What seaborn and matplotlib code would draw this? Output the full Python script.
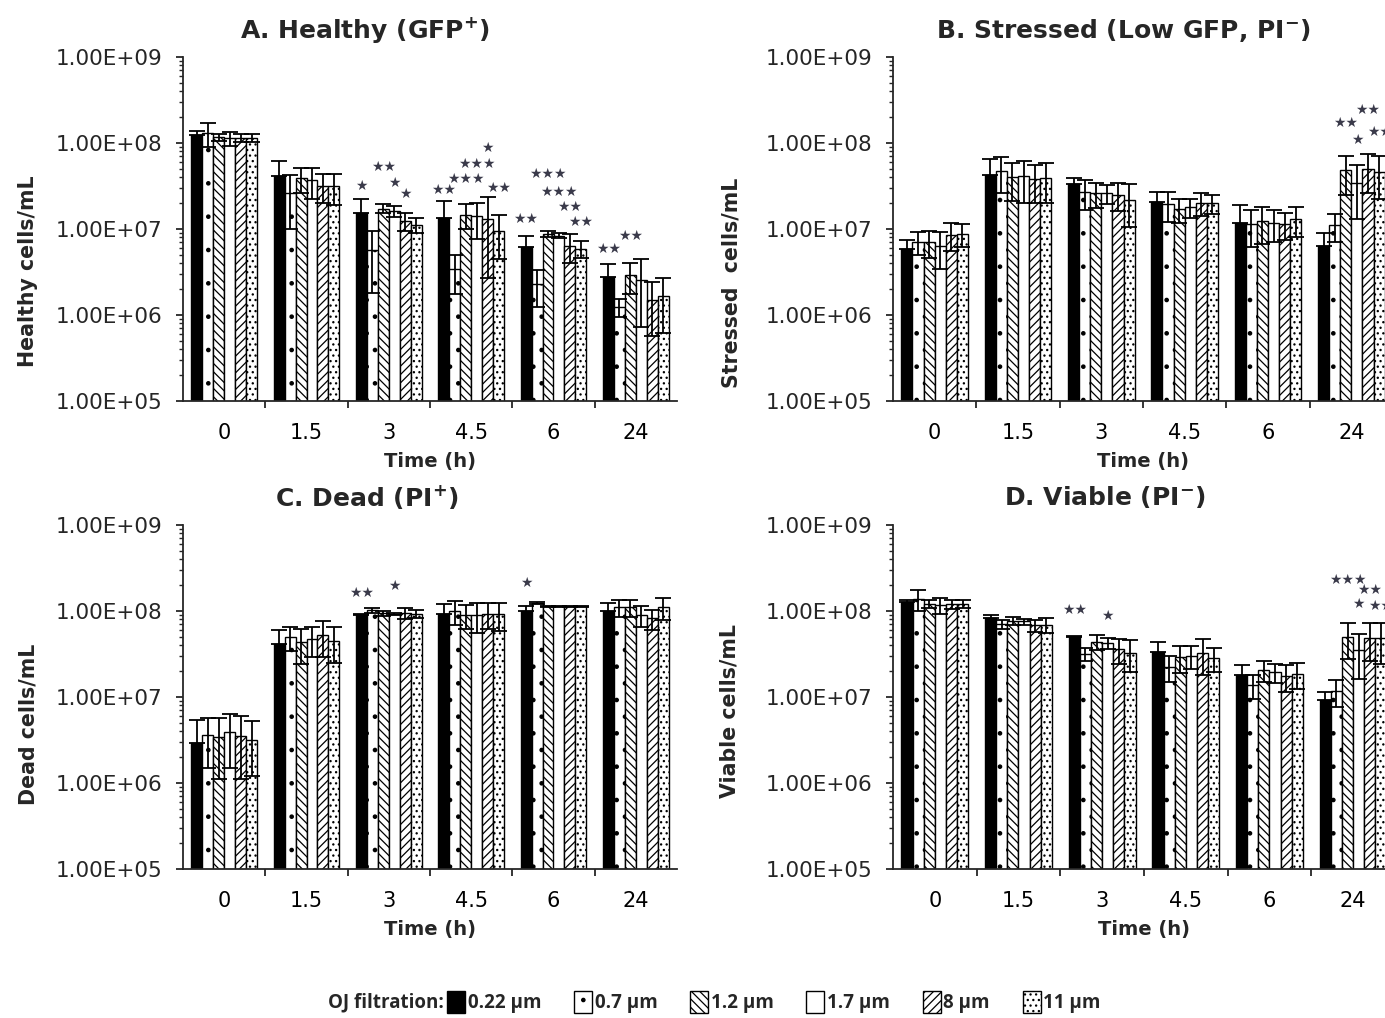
import numpy as np
import pandas as pd
import matplotlib
matplotlib.use("Agg")
import matplotlib.pyplot as plt
import matplotlib.patches as mpatches
from matplotlib.container import BarContainer
from matplotlib.ticker import FixedLocator, FuncFormatter, LogLocator, NullFormatter
import seaborn as sns

# ---------------- data ----------------
times = ["0", "1.5", "3", "4.5", "6", "24"]
filters = ["0.22 μm", "0.7 μm", "1.2 μm", "1.7 μm", "8 μm", "11 μm"]

# rows = filters (0.22, 0.7, 1.2, 1.7, 8, 11); columns = times
healthy_mean = [
    [1.24e8, 4.1e7, 1.55e7, 1.36e7, 6.2e6, 2.8e6],
    [1.30e8, 2.6e7, 5.7e6, 3.4e6, 2.3e6, 1.25e6],
    [1.16e8, 3.9e7, 1.73e7, 1.47e7, 8.8e6, 2.9e6],
    [1.14e8, 3.7e7, 1.62e7, 1.40e7, 8.4e6, 2.58e6],
    [1.15e8, 3.2e7, 1.23e7, 1.32e7, 6.4e6, 1.5e6],
    [1.15e8, 3.15e7, 1.12e7, 9.6e6, 5.9e6, 1.65e6],
]
healthy_sd = [
    [1.4e7, 2.1e7, 6.7e6, 7.6e6, 2.2e6, 1.07e6],
    [4.0e7, 1.6e7, 3.9e6, 1.65e6, 1.05e6, 0.29e6],
    [1.1e7, 1.25e7, 2.1e6, 4.7e6, 0.8e6, 1.15e6],
    [2.1e7, 1.45e7, 2.3e6, 6.3e6, 0.6e6, 1.85e6],
    [1.1e7, 1.2e7, 2.9e6, 1.05e7, 2.4e6, 0.93e6],
    [1.1e7, 1.25e7, 2.2e6, 5.1e6, 1.35e6, 1.03e6],
]
stressed_mean = [
    [5.9e6, 4.3e7, 3.3e7, 2.07e7, 1.17e7, 6.4e6],
    [7.1e6, 4.7e7, 2.7e7, 1.95e7, 1.15e7, 1.1e7],
    [7.1e6, 4.0e7, 2.6e7, 1.7e7, 1.24e7, 4.8e7],
    [6.3e6, 4.1e7, 2.6e7, 1.8e7, 1.19e7, 3.4e7],
    [8.6e6, 3.8e7, 2.5e7, 2.0e7, 1.15e7, 5.0e7],
    [8.7e6, 3.95e7, 2.2e7, 2.0e7, 1.3e7, 4.65e7],
]
stressed_sd = [
    [1.5e6, 2.2e7, 6.5e6, 6.3e6, 7.2e6, 2.5e6],
    [2.1e6, 2.1e7, 1.05e7, 7.5e6, 5.3e6, 3.9e6],
    [2.5e6, 1.9e7, 8.3e6, 5.2e6, 5.7e6, 2.3e7],
    [2.9e6, 2.1e7, 6.6e6, 4.5e6, 4.9e6, 2.1e7],
    [3.1e6, 1.8e7, 9.0e6, 6.0e6, 4.0e6, 2.4e7],
    [2.6e6, 1.95e7, 1.15e7, 5.0e6, 5.0e6, 2.4e7],
]
dead_mean = [
    [2.92e6, 4.17e7, 9.0e7, 9.15e7, 1.0e8, 1.0e8],
    [3.6e6, 4.95e7, 1.02e8, 9.95e7, 1.24e8, 1.1e8],
    [3.4e6, 4.35e7, 9.4e7, 9.0e7, 1.13e8, 1.1e8],
    [3.9e6, 4.7e7, 9.3e7, 9.05e7, 1.13e8, 8.9e7],
    [3.55e6, 5.25e7, 9.5e7, 9.35e7, 1.13e8, 8.2e7],
    [3.2e6, 4.5e7, 9.35e7, 9.2e7, 1.13e8, 1.11e8],
]
dead_sd = [
    [2.5e6, 1.8e7, 3.0e6, 2.8e7, 1.3e7, 2.5e7],
    [2.1e6, 1.55e7, 7.0e6, 3.15e7, 2.0e6, 2.5e7],
    [2.3e6, 1.9e7, 6.0e6, 2.9e7, 1.0e6, 2.5e7],
    [2.4e6, 1.8e7, 3.0e6, 3.45e7, 1.0e6, 2.4e7],
    [2.45e6, 2.35e7, 1.4e7, 3.1e7, 1.0e6, 2.2e7],
    [2.0e6, 2.0e7, 1.05e7, 3.3e7, 1.0e6, 3.2e7],
]
viable_mean = [
    [1.27e8, 8.3e7, 5.0e7, 3.34e7, 1.82e7, 9.15e6],
    [1.37e8, 7.0e7, 3.16e7, 2.25e7, 1.37e7, 1.16e7],
    [1.21e8, 7.7e7, 4.35e7, 2.9e7, 2.05e7, 5.0e7],
    [1.18e8, 7.55e7, 4.2e7, 3.0e7, 1.96e7, 3.5e7],
    [1.21e8, 6.8e7, 3.6e7, 3.28e7, 1.74e7, 4.9e7],
    [1.22e8, 6.9e7, 3.25e7, 2.85e7, 1.87e7, 4.85e7],
]
viable_sd = [
    [9.0e6, 8.0e6, 1.5e6, 1.0e7, 5.6e6, 2.3e6],
    [3.7e7, 8.0e6, 5.6e6, 7.5e6, 4.2e6, 4.0e6],
    [1.2e7, 8.0e6, 8.5e6, 1.0e7, 5.5e6, 2.25e7],
    [2.5e7, 6.0e6, 6.0e6, 9.0e6, 4.9e6, 1.9e7],
    [1.5e7, 1.1e7, 1.15e7, 1.5e7, 6.0e6, 2.3e7],
    [1.3e7, 1.4e7, 1.3e7, 9.0e6, 6.2e6, 2.4e7],
]

# significance marks: (time index, filter index, label, height)
healthy_stars = [
    (2, 0, "*", 3.15e7), (2, 2, "**", 5.3e7), (2, 3, "*", 3.44e7), (2, 4, "*", 2.58e7),
    (3, 0, "**", 2.88e7), (3, 2, "***", 3.84e7), (3, 3, "***", 5.74e7), (3, 4, "*", 8.67e7),
    (3, 5, "**", 3.03e7),
    (4, 0, "**", 1.31e7), (4, 2, "***", 4.35e7), (4, 3, "***", 2.73e7), (4, 4, "**", 1.81e7),
    (4, 5, "**", 1.2e7),
    (5, 0, "**", 5.94e6), (5, 2, "**", 8.28e6),
]
stressed_stars = [(5, 2, "**", 1.7e8), (5, 3, "*", 1.1e8), (5, 4, "**", 2.43e8), (5, 5, "**", 1.33e8)]
dead_stars = [(2, 0, "**", 1.62e8), (2, 3, "*", 1.95e8), (4, 0, "*", 2.13e8)]
viable_stars = [(2, 0, "**", 1.02e8), (2, 3, "*", 8.75e7), (5, 2, "***", 2.31e8),
                (5, 3, "*", 1.22e8), (5, 4, "**", 1.77e8), (5, 5, "**", 1.14e8)]

# ---------------- style ----------------
face_colors = ["black", "white", "white", "white", "white", "white"]
hatches = ["", ".", "\\\\\\\\", "", "////", "..."]

sns.set_style("ticks")
plt.rcParams["font.family"] = ["DejaVu Sans"]
plt.rcParams["axes.linewidth"] = 1.3
plt.rcParams["hatch.linewidth"] = 0.9
plt.rcParams["hatch.color"] = "black"

W, H = 1385, 1018
fig = plt.figure(figsize=(W / 100, H / 100), dpi=100)
fig.patch.set_facecolor("white")


def rect(left, top, width, bottom):
    return [left / W, 1 - bottom / H, width / W, (bottom - top) / H]


def draw(ax, means, sds, stars, ylabel, ylab_xy):
    rows = [(t, f, means[i][j]) for i, f in enumerate(filters) for j, t in enumerate(times)]
    df = pd.DataFrame(rows, columns=["Time", "Filter", "Value"])
    sns.barplot(data=df, x="Time", y="Value", hue="Filter", order=times, hue_order=filters,
                palette=face_colors, errorbar=None, width=0.8, edgecolor="black",
                linewidth=1.0, saturation=1, legend=False, ax=ax, zorder=2)
    bar_conts = [c for c in ax.containers if isinstance(c, BarContainer)]
    centers = {}
    for i, cont in enumerate(bar_conts):
        xs, ys, lo, hi = [], [], [], []
        for bar in cont:
            bar.set_hatch(hatches[i])
            bar.set_facecolor(face_colors[i])
            bar.set_edgecolor("black")
            xc = bar.get_x() + bar.get_width() / 2
            j = int(round(xc))
            centers[(i, j)] = xc
            xs.append(xc)
            ys.append(means[i][j])
            hi.append(sds[i][j])
            # the lower whisker of a solid black bar is hidden inside the bar
            lo.append(0.0 if face_colors[i] == "black" else sds[i][j])
        ax.errorbar(xs, ys, yerr=[lo, hi], fmt="none", ecolor="black", elinewidth=1.3,
                    capsize=5.5, capthick=1.3, zorder=4)
    ax.set_yscale("log")
    ax.set_ylim(1e5, 1e9)
    ax.set_xlim(-0.5, 5.5)
    ax.yaxis.set_major_locator(FixedLocator([1e5, 1e6, 1e7, 1e8, 1e9]))
    ax.yaxis.set_major_formatter(FuncFormatter(lambda v, p: f"{v:.2E}"))
    ax.yaxis.set_minor_locator(LogLocator(base=10, subs=np.arange(2, 10), numticks=20))
    ax.yaxis.set_minor_formatter(NullFormatter())
    ax.set_xticks(range(len(times)))
    ax.set_xticklabels(times)
    ax.set_xticks(np.arange(0.5, len(times) - 1, 1.0), minor=True)
    ax.tick_params(axis="x", which="major", length=0, pad=16, labelsize=15, colors="black")
    ax.tick_params(axis="x", which="minor", length=5, width=1.3, direction="out")
    ax.tick_params(axis="y", which="major", length=5, width=1.3, pad=10, labelsize=15.5)
    ax.tick_params(axis="y", which="minor", length=3, width=1.0)
    sns.despine(ax=ax)
    ax.set_xlabel("Time (h)", fontsize=14, fontweight="bold", labelpad=6)
    ax.set_ylabel(ylabel, fontsize=14.8, fontweight="bold")
    ax.yaxis.set_label_coords(*ylab_xy)
    for (j, i, lab, yv) in stars:
        ax.text(centers[(i, j)], yv, "★" * len(lab), ha="center", va="center",
                fontsize=10, color="#3a3a4a", zorder=5, clip_on=False)


panels = [
    (rect(183, 57, 494, 401), healthy_mean, healthy_sd, healthy_stars, "Healthy cells/mL",
     (-0.2935, 0.378), "A. Healthy (GFP$^{\\mathbf{+}}$)", (365, 30)),
    (rect(893, 57, 500, 401), stressed_mean, stressed_sd, stressed_stars, "Stressed  cells/mL",
     (-0.302, 0.343), "B. Stressed (Low GFP, PI$^{\\mathbf{-}}$)", (1123, 30)),
    (rect(183, 525, 494, 869), dead_mean, dead_sd, dead_stars, "Dead cells/mL",
     (-0.2935, 0.4215), "C. Dead (PI$^{\\mathbf{+}}$)", (367, 497)),
    (rect(893, 525, 502, 869), viable_mean, viable_sd, viable_stars, "Viable cells/mL",
     (-0.306, 0.459), "D. Viable (PI$^{\\mathbf{-}}$)", (1105, 497)),
]

for r, m, s, st, yl, yxy, title, tpos in panels:
    ax = fig.add_axes(r)
    ax.set_facecolor("white")
    draw(ax, m, s, st, yl, yxy)
    fig.text(tpos[0] / W, 1 - tpos[1] / H, title, ha="center", va="center",
             fontsize=18, fontweight="bold")

# legend
fig.text(328 / W, 1 - 1002 / H, "OJ filtration:", ha="left", va="center",
         fontsize=13.5, fontweight="bold", family=["Open Sans", "DejaVu Sans"])
handles = [mpatches.Patch(facecolor=face_colors[i], edgecolor="black", hatch=hatches[i],
                          linewidth=1.0, label=filters[i]) for i in range(len(filters))]
fig.legend(handles=handles, loc="center left", bbox_to_anchor=(447 / W, 1 - 1002 / H),
           ncol=6, frameon=False, handlelength=0.95, handleheight=1.4, handletextpad=0.15,
           columnspacing=1.75, borderpad=0, borderaxespad=0,
           prop={"family": ["Open Sans", "DejaVu Sans"], "weight": "bold", "size": 13.5})

fig.savefig("out.png", dpi=100, facecolor="white")
